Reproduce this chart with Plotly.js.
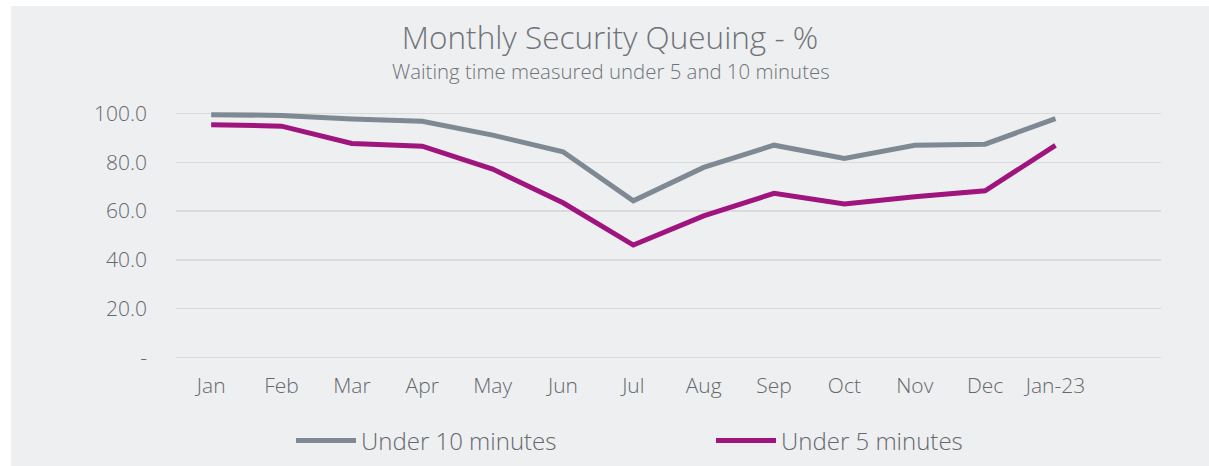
<!DOCTYPE html>
<html>
<head>
<meta charset="utf-8">
<script src="https://cdn.plot.ly/plotly-3.0.1.min.js"></script>
<style>
  html, body { margin: 0; padding: 0; background: #ffffff; }
  #chart { position: absolute; left: 11px; top: 6px; width: 1198px; height: 460px; }
</style>
</head>
<body>
<div id="chart"></div>
<script>
const months = ["Jan","Feb","Mar","Apr","May","Jun","Jul","Aug","Sep","Oct","Nov","Dec","Jan-23"];
const under10 = [99.5, 99.2, 97.7, 96.8, 91.1, 84.3, 64.2, 77.9, 87.0, 81.6, 87.0, 87.4, 97.9];
const under5  = [95.4, 94.8, 87.7, 86.6, 77.2, 63.4, 46.1, 58.0, 67.3, 62.9, 65.9, 68.3, 86.9];
const yTickVals = [0, 20, 40, 60, 80, 100];
const yTickText = ["-", "20.0", "40.0", "60.0", "80.0", "100.0"];

const fontFam = "'Open Sans', 'Noto Sans', sans-serif";
const textCol = "#65686d";

const traces = [
  { x: months, y: under10, name: "Under 10 minutes", type: "scatter", mode: "lines",
    line: { color: "#7f8993", width: 5 } },
  { x: months, y: under5, name: "Under 5 minutes", type: "scatter", mode: "lines",
    line: { color: "#a0157d", width: 5 } }
];

const pxPerUnit = 2.444;
const layout = {
  width: 1198, height: 460,
  paper_bgcolor: "#eeeff1", plot_bgcolor: "#eeeff1",
  margin: { l: 165, r: 48, t: 107.3 - pxPerUnit, b: 108.3 - pxPerUnit },
  font: { family: fontFam, color: textCol, weight: 300 },
  title: { text: "Monthly Security Queuing - %", x: 0.5, xref: "container", xanchor: "center",
           y: 1 - 32/460, yref: "container", yanchor: "middle",
           font: { size: 31.5, color: "#707378", family: fontFam, weight: 300 } },
  annotations: [{ text: "Waiting time measured under 5 and 10 minutes", xref: "paper", yref: "paper",
                  x: (600 - 165) / 985, y: 1 + (104.9 - 65) / 249.3, xanchor: "center", yanchor: "middle",
                  showarrow: false, font: { size: 20.4, color: "#707378", family: fontFam, weight: 300 } }],
  xaxis: { type: "category", range: [-0.5, 13.5], showgrid: false, zeroline: false, showline: false,
           ticks: "", tickfont: { size: 21, color: textCol }, ticklabelstandoff: 11, fixedrange: true },
  yaxis: { range: [-1, 101], tickvals: yTickVals, ticktext: yTickText, showgrid: true,
           gridcolor: "#d9dadc", gridwidth: 1.5, zeroline: false, showline: false, ticks: "",
           tickfont: { size: 21, color: textCol }, ticklabelstandoff: 28, fixedrange: true },
  showlegend: true,
  legend: { orientation: "h", x: (291 - 11 - 165) / 985, xanchor: "left",
            y: 1 - 435 / 460, yref: "container", yanchor: "middle",
            font: { size: 24, color: textCol }, itemwidth: 60,
            entrywidth: 345, entrywidthmode: "pixels", bgcolor: "rgba(0,0,0,0)" }
};

Plotly.newPlot("chart", traces, layout, { displayModeBar: false, staticPlot: true });
</script>
</body>
</html>
